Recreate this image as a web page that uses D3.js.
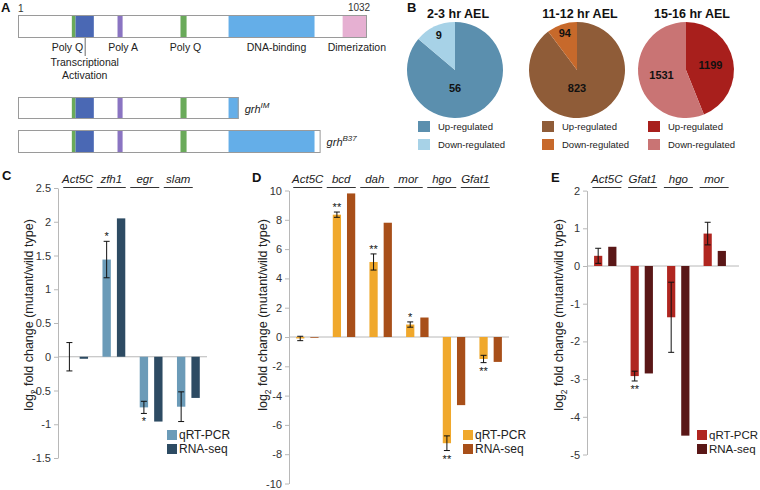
<!DOCTYPE html>
<html><head><meta charset="utf-8">
<script src="https://cdn.jsdelivr.net/npm/d3@7"></script>
<style>body{margin:0;background:#fff;} svg{font-family:"Liberation Sans",Arial,sans-serif;display:block;}</style>
</head><body><svg id="c" width="760" height="490"></svg>
<script>
// ---------- Panel A data ----------
const domainNames = ["Poly Q","Transcriptional Activation","Poly A","Poly Q","DNA-binding","Dimerization"];
const domainStart = [160, 171, 295, 481, 623, 960];
const domainEnd   = [171, 225, 310, 499, 877, 1032];
const domainColors = ["#6aaa5a","#4a68b4","#8a74c2","#6aaa5a","#64aee8","#e6b0d2"];
const isoformSup = ["", "IM", "B37"];
const isoformEnd = [1032, 653, 895];

// ---------- Panel B data ----------
const pieTitles = ["2-3 hr AEL","11-12 hr AEL","15-16 hr AEL"];
const pieUp = [56, 823, 1199];
const pieDown = [9, 94, 1531];
const pieUpColors = ["#5b8fae","#8f5c38","#a81f1c"];
const pieDownColors = ["#a7d2e7","#c7692b","#c97474"];
const pieLegend = ["Up-regulated","Down-regulated"];

// ---------- Panel C data ----------
const cGenes = ["Act5C","zfh1","egr","slam"];
const cQrt = [0, 1.44, -0.75, -0.74];
const cQrtErr = [0.21, 0.27, 0.09, 0.22];
const cRna = [-0.03, 2.05, -0.96, -0.61];
const cSig = ["", "*", "*", ""];
const cTicks = [2.5, 2, 1.5, 1, 0.5, 0, -0.5, -1, -1.5];

// ---------- Panel D data ----------
const dGenes = ["Act5C","bcd","dah","mor","hgo","Gfat1"];
const dQrt = [-0.1, 8.35, 5.12, 0.85, -7.25, -1.5];
const dQrtErr = [0.15, 0.18, 0.55, 0.18, 0.5, 0.25];
const dRna = [-0.05, 9.8, 7.8, 1.33, -4.65, -1.7];
const dSig = ["", "**", "**", "*", "**", "**"];
const dTicks = [10, 8, 6, 4, 2, 0, -2, -4, -6, -8, -10];

// ---------- Panel E data ----------
const eGenes = ["Act5C","Gfat1","hgo","mor"];
const eQrt = [0.27, -2.92, -1.36, 0.86];
const eQrtErr = [0.2, 0.13, 0.93, 0.3];
const eRna = [0.51, -2.85, -4.5, 0.4];
const eSig = ["", "**", "", ""];
const eTicks = [2, 1, 0, -1, -2, -3, -4, -5];

const seriesNames = ["qRT-PCR","RNA-seq"];

const svg = d3.select("#c");
const FONT = '"Liberation Sans", Arial, sans-serif';

function letter(t, x, y){
  svg.append("text").attr("x",x).attr("y",y).text(t)
    .attr("font-weight","bold").attr("font-size",13).attr("fill","#111");
}

// ================= Panel A =================
letter("A", 1, 12);
const xa = d3.scaleLinear().domain([1, 1032]).range([18, 367]);
const barY = [15, 97, 130], barH = [23, 22, 23];
svg.append("text").attr("x", xa(1)).attr("y", 12).attr("font-size",10).attr("fill","#333").text("1");
svg.append("text").attr("x", xa(1032)-8).attr("y", 11).attr("text-anchor","middle").attr("font-size",10).attr("fill","#333").text("1032");

isoformEnd.forEach((len, k) => {
  const g = svg.append("g");
  g.append("rect").attr("x", xa(1)).attr("y", barY[k]).attr("width", xa(len)-xa(1)).attr("height", barH[k]).attr("fill","#fff");
  domainNames.forEach((n, i) => {
    if (domainStart[i] >= len) return;
    const e = Math.min(domainEnd[i], len);
    g.append("rect").attr("x", xa(domainStart[i])).attr("y", barY[k])
      .attr("width", xa(e)-xa(domainStart[i])).attr("height", barH[k]).attr("fill", domainColors[i]);
  });
  g.append("rect").attr("x", xa(1)+0.5).attr("y", barY[k]+0.5).attr("width", xa(len)-xa(1)-1).attr("height", barH[k]-1)
    .attr("fill","none").attr("stroke","#9a9a9a").attr("stroke-width",1);
  if (k > 0) {
    const t = g.append("text").attr("x", xa(len)+6).attr("y", barY[k]+16).attr("font-size",11).attr("font-style","italic").attr("fill","#222");
    t.append("tspan").text("grh");
    t.append("tspan").attr("dy",-5).attr("font-size",8).text(isoformSup[k]);
  }
});
// domain labels
const labelDx = [0, 0, 3, 2, 5, 2];
const taX = (xa(domainStart[1]) + xa(domainEnd[1]))/2;
domainNames.forEach((n, i) => {
  const cx = (xa(domainStart[i]) + xa(domainEnd[i]))/2 + labelDx[i];
  if (i === 1) {
    svg.append("line").attr("x1", cx+0.5).attr("x2", cx+0.5).attr("y1", 38).attr("y2", 56).attr("stroke","#444").attr("stroke-width",0.8);
    svg.append("text").attr("x", cx).attr("y", 66).attr("text-anchor","middle").attr("font-size",10.5).attr("fill","#222").text("Transcriptional");
    svg.append("text").attr("x", cx).attr("y", 79).attr("text-anchor","middle").attr("font-size",10.5).attr("fill","#222").text("Activation");
  } else if (i === 0) {
    svg.append("text").attr("x", taX-1.5).attr("y", 51).attr("text-anchor","end").attr("font-size",10.5).attr("fill","#222").text(n);
  } else {
    svg.append("text").attr("x", cx).attr("y", 51).attr("text-anchor","middle").attr("font-size",10.5).attr("fill","#222").text(n);
  }
});

// ================= Panel B =================
letter("B", 407, 12);
const pieCx = [455, 577, 686], pieCy = 70, R = 48;
const pie = d3.pie().sort(null).value(d => d);
const arc = d3.arc().innerRadius(0).outerRadius(R);
const legX = [418, 542, 648];
pieTitles.forEach((t, k) => {
  const g = svg.append("g").attr("transform", `translate(${pieCx[k]},${pieCy})`);
  svg.append("text").attr("x", pieCx[k] + (k===2?6:3)).attr("y", 18).attr("text-anchor","middle")
    .attr("font-weight","bold").attr("font-size",12.5).attr("fill","#111").text(t);
  const arcs = pie([pieUp[k], pieDown[k]]);
  const cols = [pieUpColors[k], pieDownColors[k]];
  g.selectAll("path").data(arcs).join("path").attr("d", arc).attr("fill", (d,i) => cols[i]);
  arcs.forEach(a => {
    const span = a.endAngle - a.startAngle;
    let ang = (a.startAngle + a.endAngle)/2, rr;
    if (span < Math.PI/2) rr = 0.8*R;
    else if (span > 1.5*Math.PI) { ang = Math.PI; rr = 0.38*R; }
    else rr = 0.52*R;
    g.append("text").attr("x", rr*Math.sin(ang)).attr("y", -rr*Math.cos(ang)).attr("dy","0.35em")
      .attr("text-anchor","middle").attr("font-weight","bold").attr("font-size",11).attr("fill","#111")
      .text(a.data);
  });
  pieLegend.forEach((lab, i) => {
    svg.append("rect").attr("x", legX[k]).attr("y", 121 + i*18).attr("width", 12).attr("height", 11).attr("fill", cols[i]);
    svg.append("text").attr("x", legX[k]+20).attr("y", 126.5 + i*18).attr("dy","0.35em")
      .attr("font-size",9.5).attr("fill","#222").text(lab);
  });
});

// ================= Bar panels =================
function barPanel(cfg){
  const g = svg.append("g");
  const y = d3.scaleLinear().domain([cfg.ticks[cfg.ticks.length-1], cfg.ticks[0]]).range([cfg.yBottom, cfg.yTop]);
  const x = d3.scaleBand().domain(cfg.genes).range(cfg.xRange);
  const xi = d3.scaleBand().domain(seriesNames).range([0, x.bandwidth()]).paddingInner(0.42).paddingOuter(0.5);
  const xl = d3.scaleBand().domain(cfg.genes).range(cfg.labelRange);

  const axis = d3.axisLeft(y).tickValues(cfg.ticks).tickFormat(d => String(d)).tickSize(4).tickSizeOuter(0).tickPadding(3);
  const ag = g.append("g").attr("transform", `translate(${cfg.xRange[0]},0)`).call(axis)
    .attr("font-family", FONT).attr("font-size", 11);
  ag.select(".domain").attr("stroke","#b8b8b8");
  ag.selectAll(".tick line").attr("stroke","#b8b8b8");
  ag.selectAll(".tick text").attr("fill","#333");

  g.append("line").attr("x1", cfg.xRange[0]).attr("x2", cfg.zeroEnd).attr("y1", y(0)).attr("y2", y(0))
    .attr("stroke","#b8b8b8").attr("stroke-width",1);

  const series = [cfg.qrt, cfg.rna];
  series.forEach((vals, s) => {
    g.selectAll(null).data(vals).join("rect")
      .attr("x", (d,i) => x(cfg.genes[i]) + xi(seriesNames[s]))
      .attr("width", xi.bandwidth())
      .attr("y", d => y(Math.max(0, d)))
      .attr("height", d => Math.abs(y(d) - y(0)))
      .attr("fill", cfg.colors[s]);
  });
  // error bars
  cfg.qrt.forEach((v, i) => {
    const cx = x(cfg.genes[i]) + xi(seriesNames[0]) + xi.bandwidth()/2;
    const y1 = y(v + cfg.err[i]), y2 = y(v - cfg.err[i]);
    g.append("line").attr("x1",cx).attr("x2",cx).attr("y1",y1).attr("y2",y2).attr("stroke","#111").attr("stroke-width",1);
    [y1,y2].forEach(yy => g.append("line").attr("x1",cx-3).attr("x2",cx+3).attr("y1",yy).attr("y2",yy).attr("stroke","#111").attr("stroke-width",1));
    if (cfg.sig[i]) {
      g.append("text").attr("x", cx).attr("y", v >= 0 ? y1 - 1 : y2 + 12)
        .attr("text-anchor","middle").attr("font-size",11).attr("fill","#111").text(cfg.sig[i]);
    }
  });
  // gene labels
  cfg.genes.forEach(gname => {
    const cx = xl(gname) + xl.bandwidth()/2;
    g.append("text").attr("x", cx).attr("y", 183).attr("text-anchor","middle")
      .attr("font-style","italic").attr("font-size",11.5).attr("fill","#222").text(gname);
    g.append("line").attr("x1", cx-14.5).attr("x2", cx+14.5).attr("y1", 187.5).attr("y2", 187.5)
      .attr("stroke","#333").attr("stroke-width",1);
  });
  // y label
  const t = g.append("text").attr("transform", `translate(${cfg.yLabelX},315) rotate(-90)`)
    .attr("text-anchor","middle").attr("dy","0.35em").attr("font-size",12.5).attr("fill","#222");
  t.append("tspan").text("log");
  t.append("tspan").attr("dy",4).attr("font-size",8.5).text("2");
  t.append("tspan").attr("dy",-4).text(" fold change (mutant/wild type)");
  // legend
  seriesNames.forEach((n, s) => {
    g.append("rect").attr("x", cfg.legendX).attr("y", 430 + s*14).attr("width",10).attr("height",10).attr("fill", cfg.colors[s]);
    g.append("text").attr("x", cfg.legendX+12).attr("y", 435 + s*14).attr("dy","0.35em")
      .attr("font-size",cfg.legendFont).attr("fill","#222").text(n);
  });
}

letter("C", 2, 180);
barPanel({genes:cGenes, qrt:cQrt, err:cQrtErr, rna:cRna, sig:cSig, ticks:cTicks,
  yTop:188, yBottom:458, xRange:[58,207], zeroEnd:207, labelRange:[61,195],
  colors:["#6b9bb8","#2d4b63"], yLabelX:28.5, legendX:167, legendFont:12});

letter("D", 252, 182);
barPanel({genes:dGenes, qrt:dQrt, err:dQrtErr, rna:dRna, sig:dSig, ticks:dTicks,
  yTop:190.5, yBottom:483.5, xRange:[289,509], zeroEnd:509, labelRange:[291,492],
  colors:["#f0a82c","#a84f19"], yLabelX:262.5, legendX:463, legendFont:12});

letter("E", 551, 182);
barPanel({genes:eGenes, qrt:eQrt, err:eQrtErr, rna:eRna, sig:eSig, ticks:eTicks,
  yTop:190.6, yBottom:454.5, xRange:[587,733], zeroEnd:739, labelRange:[589,732],
  colors:["#b02620","#5a1717"], yLabelX:559, legendX:697, legendFont:11.5});
</script></body></html>
